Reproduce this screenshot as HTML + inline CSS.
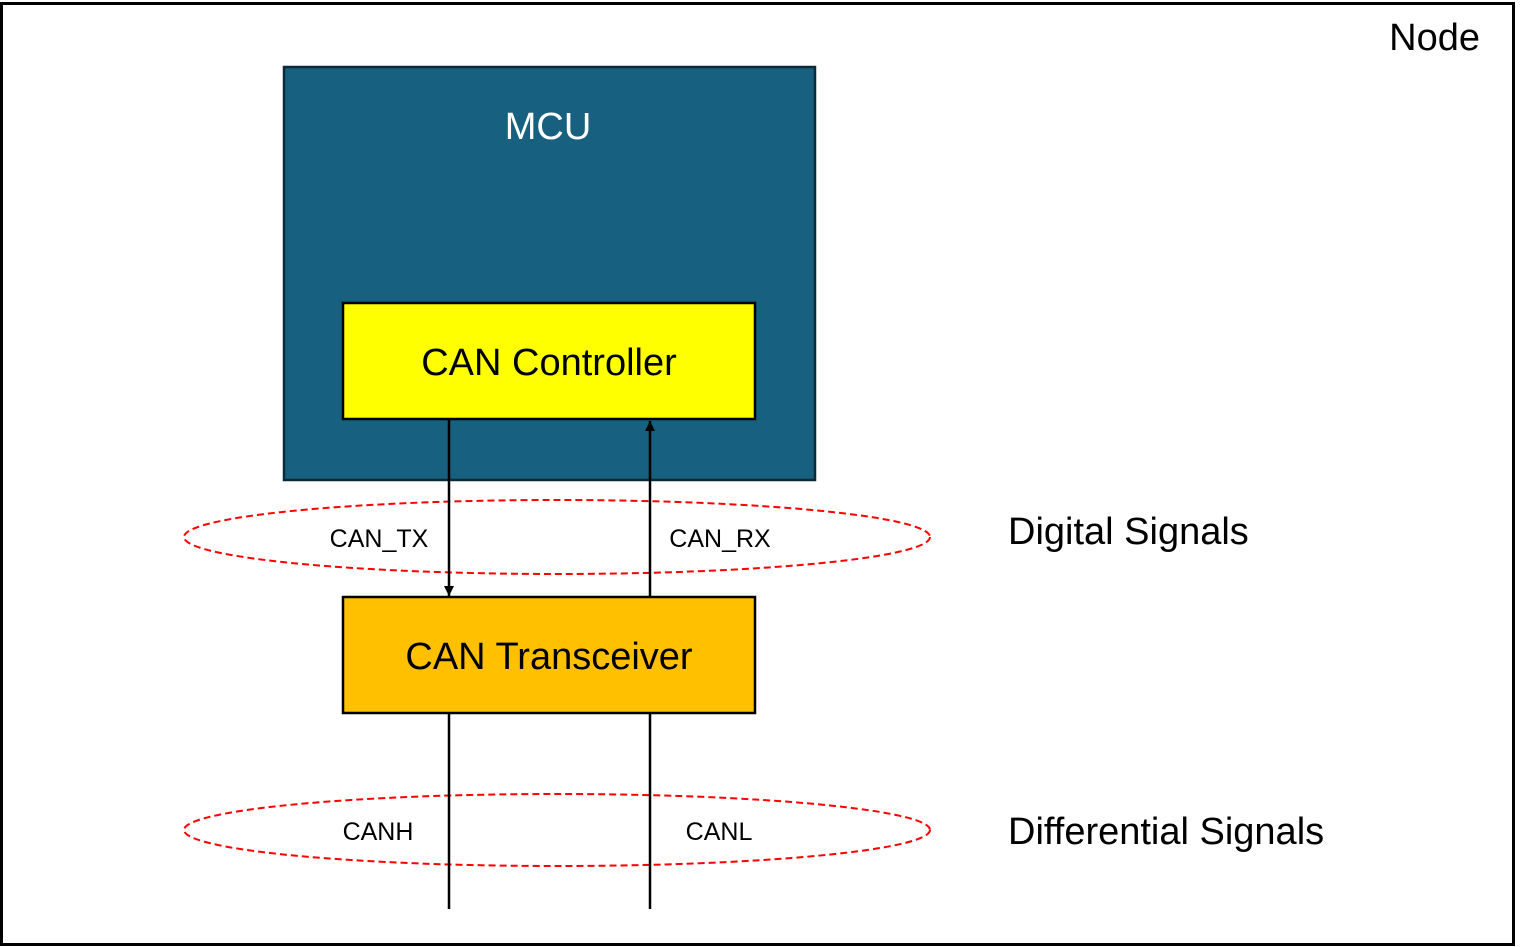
<!DOCTYPE html>
<html><head><style>body{margin:0;background:#fff}svg{display:block}</style></head><body>
<svg width="1525" height="947" xmlns="http://www.w3.org/2000/svg" font-family="Liberation Sans, sans-serif">
<defs><marker id="a" markerWidth="10" markerHeight="10" refX="10" refY="5" orient="auto" markerUnits="userSpaceOnUse" viewBox="0 0 10 10"><path d="M0,0 L10,5 L0,10 Z" fill="#000"/></marker></defs>
<rect x="1.5" y="3.5" width="1512" height="941" fill="#fff" stroke="#000" stroke-width="3"/>
<text x="1480" y="50" font-size="38" text-anchor="end">Node</text>
<rect x="284" y="67" width="531" height="413" fill="#18607f" stroke="#0b2a3a" stroke-width="2.5"/>
<text x="548" y="139" font-size="38" fill="#fff" text-anchor="middle">MCU</text>
<rect x="343" y="303" width="412" height="116" fill="#ffff00" stroke="#000" stroke-width="2.5"/>
<text x="549" y="375" font-size="38" text-anchor="middle">CAN Controller</text>
<rect x="343" y="597" width="412" height="116" fill="#ffc000" stroke="#000" stroke-width="2.5"/>
<text x="549" y="669" font-size="38" text-anchor="middle">CAN Transceiver</text>
<ellipse cx="557" cy="537" rx="373" ry="37" fill="none" stroke="#f00" stroke-width="2" stroke-dasharray="7,4"/>
<ellipse cx="557" cy="830" rx="373" ry="36" fill="none" stroke="#f00" stroke-width="2" stroke-dasharray="7,4"/>
<line x1="449" y1="420" x2="449" y2="596" stroke="#000" stroke-width="2.5" marker-end="url(#a)"/>
<line x1="650" y1="596" x2="650" y2="421" stroke="#000" stroke-width="2.5" marker-end="url(#a)"/>
<line x1="449" y1="713" x2="449" y2="909" stroke="#000" stroke-width="2.5"/>
<line x1="650" y1="713" x2="650" y2="909" stroke="#000" stroke-width="2.5"/>
<text x="379" y="547" font-size="25" text-anchor="middle">CAN_TX</text>
<text x="720" y="547" font-size="25" text-anchor="middle">CAN_RX</text>
<text x="378" y="840" font-size="25" text-anchor="middle">CANH</text>
<text x="719" y="840" font-size="25" text-anchor="middle">CANL</text>
<text x="1008" y="544" font-size="38">Digital Signals</text>
<text x="1008" y="844" font-size="38">Differential Signals</text>
</svg>
</body></html>
